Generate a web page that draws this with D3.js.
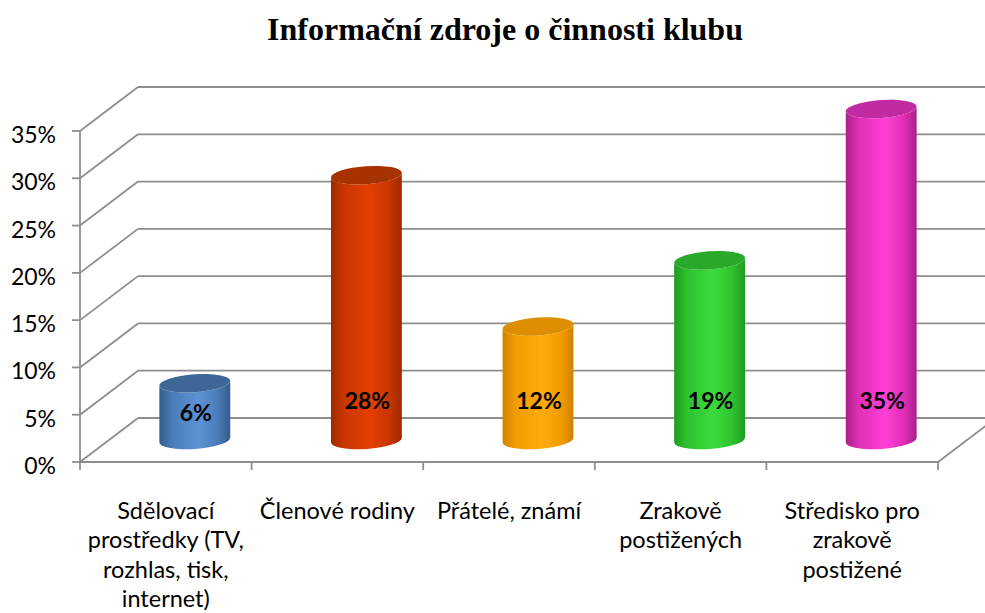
<!DOCTYPE html>
<html><head><meta charset="utf-8">
<script src="https://cdn.jsdelivr.net/npm/d3@7/dist/d3.min.js"></script>
<style>html,body{margin:0;padding:0;background:#fff;}svg{display:block;}</style>
</head><body>
<script>
const categories = ["Sdělovací prostředky (TV, rozhlas, tisk, internet)", "Členové rodiny", "Přátelé, známí", "Zrakově postižených", "Středisko pro zrakově postižené"];
const categoryLines = [["Sdělovací", "prostředky (TV,", "rozhlas, tisk,", "internet)"], ["Členové rodiny"], ["Přátelé, známí"], ["Zrakově", "postižených"], ["Středisko pro", "zrakově", "postižené"]];
const values = [6, 28, 12, 19, 35];
const valueLabels = ["6%", "28%", "12%", "19%", "35%"];
const yTicks = [0, 5, 10, 15, 20, 25, 30, 35];
const tickLabels = ["0%", "5%", "10%", "15%", "20%", "25%", "30%", "35%"];
const title = "Informační zdroje o činnosti klubu";
const palette = [
  {dark: "#355d8e", mid: "#4a7cb8", light: "#5d93d6", top: "#3e6797"},
  {dark: "#9c2a00", mid: "#c93600", light: "#e43f02", top: "#a53200"},
  {dark: "#d08300", mid: "#f29c00", light: "#ffab0a", top: "#dc8e00"},
  {dark: "#1f9a1f", mid: "#2fc22f", light: "#3cdb3c", top: "#29a929"},
  {dark: "#a82189", mid: "#e02fb6", light: "#ff3fd6", top: "#c02aa2"}
];

const W = 985, H = 613;
const svg = d3.select("body").append("svg").attr("width", W).attr("height", H);
const defs = svg.append("defs");

const x = d3.scaleBand().domain(categories).range([80, 938]).paddingInner(0).paddingOuter(0);
const y = d3.scaleLinear().domain([0, 35]).range([462, 131]);
const DX = 58, DY = -44;
const gridColor = "#8e8e8e";
const font = "Lato, 'Open Sans', sans-serif";

// title
svg.append("text").attr("x", 505).attr("y", 40).attr("text-anchor", "middle")
  .attr("font-family", "'Liberation Serif','Times New Roman',serif").attr("font-weight", "bold")
  .attr("font-size", 32).attr("fill", "#000").text(title);

const grid = svg.append("g").attr("stroke", gridColor).attr("stroke-width", 1.8).attr("fill", "none");
yTicks.forEach(t => {
  const yy = y(t);
  grid.append("line").attr("x1", 80).attr("y1", yy).attr("x2", 80 + DX).attr("y2", yy + DY);
  grid.append("line").attr("x1", 80 + DX).attr("y1", yy + DY).attr("x2", 938 + DX).attr("y2", yy + DY);
  grid.append("line").attr("x1", 72).attr("y1", yy).attr("x2", 80).attr("y2", yy);
});
grid.append("line").attr("x1", 80).attr("y1", y(35)).attr("x2", 80).attr("y2", y(0));
grid.append("line").attr("x1", 80).attr("y1", y(0)).attr("x2", 938).attr("y2", y(0));
grid.append("line").attr("x1", 938).attr("y1", y(0)).attr("x2", 938 + DX).attr("y2", y(0) + DY);
const edges = categories.map(c => x(c)).concat([x(categories[categories.length - 1]) + x.bandwidth()]);
edges.forEach(e => grid.append("line").attr("x1", e).attr("y1", y(0)).attr("x2", e).attr("y2", y(0) + 8));

// tick labels
svg.append("g").selectAll("text").data(yTicks).join("text")
  .attr("x", 56).attr("y", d => y(d) + 3).attr("text-anchor", "end").attr("dominant-baseline", "central")
  .attr("font-family", font).attr("font-size", 23).attr("fill", "#000")
  .text((d, i) => tickLabels[i]);

// cylinders
const rx = x.bandwidth() * 0.207, ry = 9, rot = -4;
const th = rot * Math.PI / 180;
const bars = svg.append("g");
values.forEach((v, i) => {
  const c = palette[i];
  const gid = "g" + i;
  const g = defs.append("linearGradient").attr("id", gid).attr("x1", 0).attr("x2", 1).attr("y1", 0).attr("y2", 0);
  [[0, c.dark], [0.18, c.mid], [0.55, c.light], [0.82, c.mid], [1, c.dark]].forEach(s =>
    g.append("stop").attr("offset", s[0]).attr("stop-color", s[1]));
  const cx = x(categories[i]) + x.bandwidth() / 2 + DX / 2;
  const by = y(0) + DY / 2;
  const ty = y(v) + DY / 2;
  const ex = rx * Math.cos(th), ey = rx * Math.sin(th);
  const p = `M${cx - ex},${ty - ey} L${cx - ex},${by - ey} A${rx},${ry} ${rot} 0 0 ${cx + ex},${by + ey} L${cx + ex},${ty + ey} A${rx},${ry} ${rot} 0 1 ${cx - ex},${ty - ey} Z`;
  bars.append("path").attr("d", p).attr("fill", `url(#${gid})`);
  bars.append("ellipse").attr("cx", cx).attr("cy", ty).attr("rx", rx).attr("ry", ry)
    .attr("transform", `rotate(${rot},${cx},${ty})`).attr("fill", c.top);
  const mid = (ty + by) / 2;
  const ly = Math.max(mid, by - 40);
  bars.append("text").attr("x", cx + 1).attr("y", ly).attr("text-anchor", "middle").attr("dominant-baseline", "central")
    .attr("font-family", font).attr("font-weight", "bold").attr("font-size", 23)
    .attr("fill", "#000").text(valueLabels[i]);
});

// category labels
const cl = svg.append("g").attr("font-family", font).attr("font-size", 23.5).attr("fill", "#000").attr("text-anchor", "middle");
categories.forEach((c, i) => {
  const cxl = x(c) + x.bandwidth() / 2;
  const t = cl.append("text").attr("x", cxl).attr("y", 519);
  categoryLines[i].forEach((ln, j) => t.append("tspan").attr("x", cxl).attr("y", 519 + j * 29.3).text(ln));
});
</script>
</body></html>
